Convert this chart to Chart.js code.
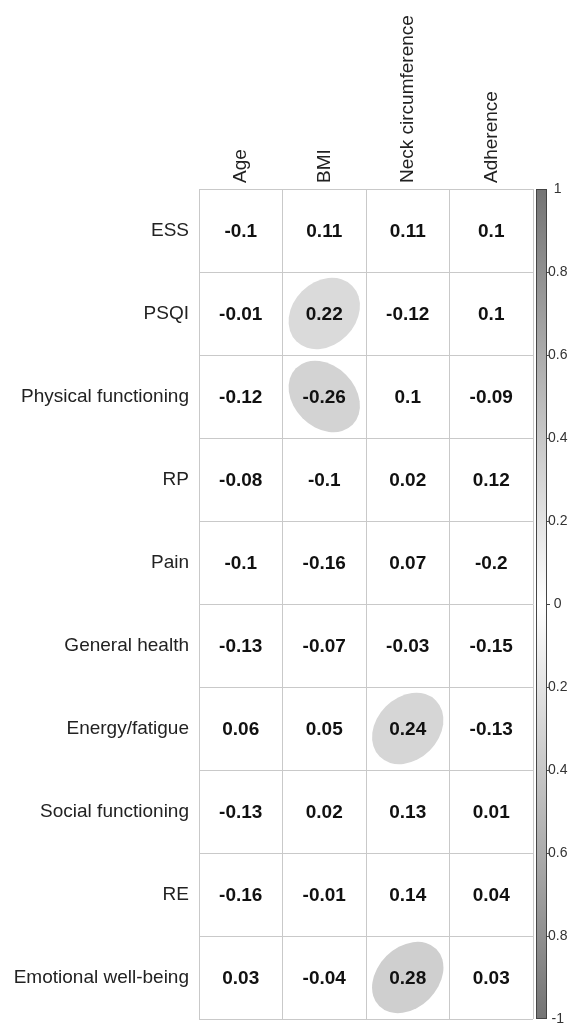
<!DOCTYPE html>
<html>
<head>
<meta charset="utf-8">
<script src="https://cdn.jsdelivr.net/npm/chart.js@4/dist/chart.umd.min.js"></script>
<style>
  html, body { margin: 0; padding: 0; background: #fff; }
  #wrap { width: 574px; height: 1023px; position: relative; }
</style>
</head>
<body>
<div id="wrap"><canvas id="corrChart"></canvas></div>
<script>
// rows and columns of the correlation table
const rowLabels = ['ESS', 'PSQI', 'Physical functioning', 'RP', 'Pain', 'General health',
    'Energy/fatigue', 'Social functioning', 'RE', 'Emotional well-being'];
const colLabels = ['Age', 'BMI', 'Neck circumference', 'Adherence'];

// correlation values, one array per column (same order as rowLabels)
const ageR       = [-0.1, -0.01, -0.12, -0.08, -0.1, -0.13, 0.06, -0.13, -0.16, 0.03];
const bmiR       = [0.11, 0.22, -0.26, -0.1, -0.16, -0.07, 0.05, 0.02, -0.01, -0.04];
const neckR      = [0.11, -0.12, 0.1, 0.02, 0.07, -0.03, 0.24, 0.13, 0.14, 0.28];
const adherenceR = [0.1, 0.1, -0.09, 0.12, -0.2, -0.15, -0.13, 0.01, 0.04, 0.03];

// cells drawn with an ellipse (row, column)
const significant = [['PSQI', 'BMI'], ['Physical functioning', 'BMI'],
    ['Energy/fatigue', 'Neck circumference'], ['Emotional well-being', 'Neck circumference']];

// colour bar ticks, bottom to top
const barTickValues = [-1, -0.8, -0.6, -0.4, -0.2, 0, 0.2, 0.4, 0.6, 0.8, 1];
const barTickLabels = ['-1', '0.8', '0.6', '0.4', '0.2', '0', '0.2', '0.4', '0.6', '0.8', '1'];

const columns = [ageR, bmiR, neckR, adherenceR];
const points = [];
columns.forEach(function(col, c) {
    col.forEach(function(v, r) {
        const sig = significant.some(function(s) { return s[0] === rowLabels[r] && s[1] === colLabels[c]; });
        points.push({ x: colLabels[c], y: rowLabels[r], r: v, sig: sig });
    });
});

const FONT = '"Liberation Sans", Arial, Helvetica, sans-serif';
const gridColor = '#c9c9c9';

function ellipseGray(v) {
    const g = Math.round(255 - Math.abs(v) * 170);
    return 'rgb(' + g + ',' + g + ',' + g + ')';
}

// draws ellipses + numbers in the cells, and the colour bar
const corrPlugin = {
    id: 'corrCells',
    afterDatasetsDraw: function(chart) {
        const ctx = chart.ctx;
        const xs = chart.scales.x, ys = chart.scales.y;
        const cw = Math.abs(xs.getPixelForValue(1) - xs.getPixelForValue(0));
        const ch = Math.abs(ys.getPixelForValue(1) - ys.getPixelForValue(0));
        const k = 0.43 * Math.min(cw, ch);
        const meta = chart.getDatasetMeta(0);
        ctx.save();
        meta.data.forEach(function(el, i) {
            const p = points[i];
            if (p.sig) {
                const a = k * Math.sqrt(1 + Math.abs(p.r));
                const b = k * Math.sqrt(1 - Math.abs(p.r));
                const rot = p.r > 0 ? -Math.PI / 4 : Math.PI / 4;
                ctx.beginPath();
                ctx.ellipse(el.x, el.y, a, b, rot, 0, Math.PI * 2);
                ctx.fillStyle = ellipseGray(p.r);
                ctx.fill();
            }
            ctx.fillStyle = '#111';
            ctx.font = 'bold 19px ' + FONT;
            ctx.textAlign = 'center';
            ctx.textBaseline = 'middle';
            ctx.fillText(String(p.r), el.x, el.y + 1);
        });

        // colour bar
        const cb = chart.scales.cb;
        const top = cb.getPixelForValue(1), bottom = cb.getPixelForValue(-1);
        const bx = cb.left + 3, bw = 11;
        const grad = ctx.createLinearGradient(0, top, 0, bottom);
        grad.addColorStop(0, '#747474');
        grad.addColorStop(0.5, '#ffffff');
        grad.addColorStop(1, '#747474');
        ctx.fillStyle = grad;
        ctx.fillRect(bx, top, bw, bottom - top);
        ctx.strokeStyle = '#444';
        ctx.lineWidth = 1;
        ctx.strokeRect(bx + 0.5, top + 0.5, bw - 1, bottom - top - 1);
        cb.ticks.forEach(function(t) {
            if (Math.abs(t.value) === 1) return;
            const y = Math.round(cb.getPixelForValue(t.value)) + 0.5;
            ctx.beginPath();
            ctx.moveTo(bx + bw, y);
            ctx.lineTo(bx + bw + 3, y);
            ctx.stroke();
        });
        ctx.restore();
    }
};

new Chart(document.getElementById('corrChart'), {
    type: 'scatter',
    data: {
        datasets: [{
            data: points,
            pointRadius: 0,
            pointHoverRadius: 0
        }]
    },
    options: {
        responsive: true,
        maintainAspectRatio: false,
        animation: false,
        events: [],
        layout: { padding: { top: 0, right: 0, bottom: 4, left: 0 } },
        plugins: {
            legend: { display: false },
            tooltip: { enabled: false }
        },
        scales: {
            x: {
                type: 'category',
                labels: colLabels,
                position: 'top',
                offset: true,
                grid: { offset: true, color: gridColor, drawTicks: false },
                border: { display: true, color: gridColor },
                ticks: {
                    minRotation: 90,
                    maxRotation: 90,
                    padding: 6,
                    labelOffset: 23,
                    color: '#222',
                    font: { family: FONT, size: 19 }
                },
                afterFit: function(s) { s.height = 189; s.paddingLeft = 0; s.paddingRight = 0; }
            },
            y: {
                type: 'category',
                labels: rowLabels,
                offset: true,
                grid: { offset: true, color: gridColor, drawTicks: false },
                border: { display: true, color: gridColor },
                ticks: {
                    padding: 10,
                    color: '#222',
                    font: { family: FONT, size: 19 }
                },
                afterFit: function(s) { s.width = 199; s.paddingTop = 0; s.paddingBottom = 0; }
            },
            cb: {
                type: 'linear',
                position: 'right',
                min: -1,
                max: 1,
                afterBuildTicks: function(s) {
                    s.ticks = barTickValues.map(function(v) { return { value: v }; });
                },
                grid: { display: false, drawTicks: false },
                border: { display: false },
                ticks: {
                    autoSkip: false,
                    padding: 15,
                    crossAlign: 'center',
                    color: '#333',
                    font: { family: FONT, size: 14 },
                    callback: function(v, i) { return barTickLabels[i]; }
                },
                afterFit: function(s) { s.width = 41; s.paddingTop = 0; s.paddingBottom = 0; }
            }
        }
    },
    plugins: [corrPlugin]
});
</script>
</body>
</html>
